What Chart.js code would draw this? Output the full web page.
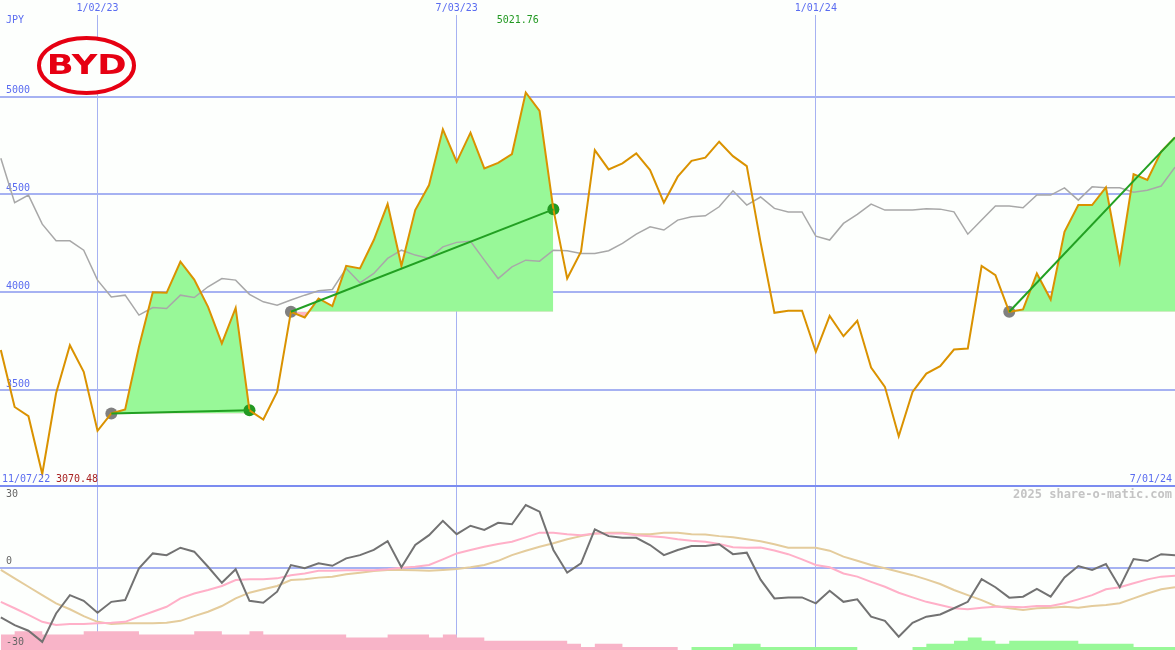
<!DOCTYPE html>
<html>
<head>
<meta charset="utf-8">
<title>BYD</title>
<script src="https://cdn.jsdelivr.net/npm/chart.js@4.4.1/dist/chart.umd.min.js"></script>
<style>
  html, body { margin: 0; padding: 0; background: #fdfffd; }
  #wrap { position: relative; width: 1175px; height: 650px; overflow: hidden; }
  #priceChart { position: absolute; left: 0; top: 0; }
  #oscChart { position: absolute; left: 0; top: 485px; }
</style>
</head>
<body>
<div id="wrap">
  <canvas id="priceChart" width="1175" height="485"></canvas>
  <canvas id="oscChart" width="1175" height="165"></canvas>
</div>
<script>
// --- dados (semanal, índice 0 = primeira semana visível) ---
const tickIdx = [7, 33, 59];
const tickDates = ['1/02/23', '7/03/23', '1/01/24'];
const priceTicks = [3500, 4000, 4500, 5000];
const oscTicks = [30, 0, -30];
const firstDate = '11/07/22';
const lastDate = '7/01/24';
const currency = 'JPY';
const watermark = '2025 share-o-matic.com';

// preço de fecho (JPY)
const price = [
  3704, 3413, 3366, 3070.48, 3483, 3729, 3593, 3291, 3380, 3400,
  3721, 4000, 3997, 4156, 4065, 3925, 3738, 3920, 3396, 3349,
  3490, 3900, 3871, 3968, 3929, 4135, 4122, 4267, 4451, 4135,
  4420, 4548, 4833, 4667, 4816, 4633, 4662, 4707, 5021.76, 4927,
  4424, 4070, 4207, 4727, 4628, 4659, 4710, 4625, 4458, 4591,
  4672, 4688, 4770, 4696, 4645, 4255, 3895, 3905, 3905, 3695,
  3879, 3775, 3854, 3615, 3516, 3263, 3490, 3584, 3622, 3707,
  3712, 4134, 4087, 3900, 3912, 4096, 3963, 4309, 4446, 4446,
  4536, 4156, 4604, 4574, 4719, 4792
];

// média móvel (linha cinza)
const avg = [
  4685, 4458, 4497, 4348, 4263, 4263, 4215, 4062, 3976, 3985,
  3883, 3922, 3917, 3985, 3973, 4028, 4070, 4062, 3989, 3951,
  3934, 3960, 3985, 4007, 4014, 4122, 4048, 4096, 4173, 4215,
  4190, 4173, 4232, 4255, 4261, 4164, 4070, 4130, 4164, 4159,
  4215, 4212, 4198, 4198, 4212, 4250, 4297, 4335, 4318, 4369,
  4386, 4391, 4437, 4519, 4446, 4487, 4429, 4411, 4411, 4287,
  4267, 4352, 4398, 4451, 4420, 4420, 4420, 4427, 4425, 4411,
  4297, 4369, 4441, 4441, 4432, 4497, 4497, 4534, 4471, 4539,
  4534, 4534, 4511, 4522, 4543, 4639
];

// oscilador (painel inferior)
const osc = [
  -20.1, -23.2, -25.5, -30.0, -18.5, -11.1, -13.4, -18.2, -13.8, -13.1,
  -0.2, 5.8, 5.1, 8.1, 6.5, 0.4, -6.1, -0.6, -13.4, -14.2,
  -9.7, 1.1, -0.2, 1.8, 0.8, 3.8, 5.1, 7.2, 10.8, 0.2,
  9.2, 13.2, 19.0, 13.6, 17.0, 15.3, 18.2, 17.6, 25.4, 22.7,
  7.2, -2.0, 1.8, 15.5, 12.8, 12.1, 12.1, 9.2, 5.1, 7.2,
  8.8, 8.8, 9.5, 5.5, 6.1, -4.8, -12.4, -12.0, -12.0, -14.4,
  -9.3, -13.8, -12.8, -19.8, -21.5, -27.9, -22.3, -19.8, -18.9, -16.4,
  -13.8, -4.6, -7.9, -12.1, -11.7, -8.6, -11.7, -3.9, 0.7, -0.9,
  1.5, -7.9, 3.5, 2.7, 5.5, 5.1
];

// sinal rápido (rosa)
const sigFast = [
  -13.8, -16.4, -19.1, -21.9, -23.2, -22.8, -22.8, -22.5, -22.3, -21.9,
  -19.8, -17.8, -15.8, -12.4, -10.4, -9.0, -7.4, -5.0, -4.7, -4.7,
  -4.3, -3.0, -2.3, -1.2, -1.2, -1.0, -1.0, -1.0, -0.6, 0.0,
  0.4, 1.1, 3.4, 5.8, 7.2, 8.5, 9.6, 10.5, 12.3, 14.2,
  14.2, 13.6, 13.2, 13.9, 13.9, 13.9, 13.2, 12.8, 12.3, 11.5,
  10.9, 10.5, 9.6, 8.3, 8.1, 8.2, 7.0, 5.5, 3.4, 1.1,
  0.2, -2.3, -3.6, -5.7, -7.7, -10.1, -12.0, -13.8, -15.1, -16.4,
  -16.8, -16.2, -15.8, -15.8, -16.0, -15.5, -15.5, -14.4, -12.8, -11.1,
  -8.7, -7.9, -6.3, -4.7, -3.6, -3.2
];

// sinal lento (bege)
const sigSlow = [
  -0.9, -4.3, -7.7, -11.1, -14.4, -16.8, -19.6, -21.9, -22.8, -22.5,
  -22.5, -22.5, -22.3, -21.5, -19.6, -17.8, -15.5, -12.4, -10.1, -8.7,
  -7.4, -5.0, -4.7, -4.0, -3.6, -2.6, -2.0, -1.3, -0.9, -0.9,
  -1.0, -1.2, -0.9, -0.5, 0.2, 1.1, 2.8, 5.1, 6.9, 8.5,
  9.9, 11.5, 12.8, 13.9, 14.2, 14.2, 13.6, 13.6, 14.2, 14.2,
  13.6, 13.5, 12.8, 12.3, 11.5, 10.7, 9.5, 8.1, 8.1, 8.1,
  6.9, 4.5, 2.8, 1.1, -0.2, -1.6, -3.0, -4.7, -6.6, -9.0,
  -11.1, -13.1, -15.5, -16.4, -17.1, -16.4, -16.2, -15.8, -16.2, -15.5,
  -15.1, -14.4, -12.4, -10.4, -8.7, -7.9
];

// histograma (negativo = rosa, positivo = verde)
const hist = [
  -5, -6, -6, -5, -5, -5, -6, -6, -6, -6,
  -5, -5, -5, -5, -6, -6, -5, -5, -6, -5,
  -5, -5, -5, -5, -5, -4, -4, -4, -5, -5,
  -5, -4, -5, -4, -4, -3, -3, -3, -3, -3,
  -3, -2, -1, -2, -2, -1, -1, -1, -1, 0,
  1, 1, 1, 2, 2, 1, 1, 1, 1, 1,
  1, 1, 0, 0, 0, 0, 1, 2, 2, 3,
  4, 3, 2, 3, 3, 3, 3, 3, 2, 2,
  2, 2, 1, 1, 1, 1
];

// operações (índices de entrada / saída)
const tradeIn = [8, 21, 73];
const tradeOut = [18, 40, 85];
const tradeClosed = [true, true, false];

// --- estilos ---
const FONT = '"DejaVu Sans Mono", monospace';
const BLUE = '#5a6cf0';
const GRID = '#a6b2f2';
const X_MIN = -0.06, X_MAX = 85.0;

const pts = (arr) => arr.map((v, i) => ({ x: i, y: v }));
const dateTicks = (s) => { s.ticks = tickIdx.map(v => ({ value: v })); };

function xAxis(extra) {
  return Object.assign({
    type: 'linear', min: X_MIN, max: X_MAX,
    afterBuildTicks: dateTicks,
    grid: { color: GRID, lineWidth: 1, drawTicks: false },
    border: { display: false }
  }, extra);
}

// --- gráfico de preço ---
const priceOverlay = {
  id: 'priceOverlay',
  afterDraw(chart) {
    const ctx = chart.ctx, xs = chart.scales.x, area = chart.chartArea;
    ctx.save();
    ctx.font = '10px ' + FONT;
    ctx.textBaseline = 'middle';

    ctx.fillStyle = BLUE;
    ctx.textAlign = 'left';
    ctx.fillText(currency, 6, 20);

    const maxV = Math.max(...price), maxI = price.indexOf(maxV);
    ctx.fillStyle = '#229922';
    ctx.textAlign = 'center';
    ctx.fillText(maxV.toFixed(2), xs.getPixelForValue(maxI) - 8, 20);

    const yb = area.bottom - 6;
    ctx.textAlign = 'left';
    ctx.fillStyle = BLUE;
    ctx.fillText(firstDate, 2, yb);
    ctx.fillStyle = '#a82222';
    ctx.fillText(Math.min(...price).toFixed(2), 56, yb);
    ctx.textAlign = 'right';
    ctx.fillStyle = BLUE;
    ctx.fillText(lastDate, 1172, yb);

    // logo BYD
    ctx.beginPath();
    ctx.ellipse(86.5, 65.5, 47.5, 27.5, 0, 0, Math.PI * 2);
    ctx.fillStyle = '#fdfffd';
    ctx.fill();
    ctx.lineWidth = 4;
    ctx.strokeStyle = '#e60012';
    ctx.stroke();
    ctx.font = 'bold 27px "DejaVu Sans", sans-serif';
    const w = ctx.measureText('BYD').width;
    ctx.translate(86.7, 73.5);
    ctx.scale(80 / w, 1);
    ctx.textAlign = 'center';
    ctx.textBaseline = 'alphabetic';
    ctx.fillStyle = '#e60012';
    ctx.fillText('BYD', 0, 0);
    ctx.restore();
  }
};

const priceDatasets = [];

tradeIn.forEach((a, k) => {
  const b = tradeOut[k];
  const seg = [];
  for (let i = a; i <= b; i++) seg.push({ x: i, y: price[i] });
  priceDatasets.push({
    data: seg, borderWidth: 0, pointRadius: 0, order: 6,
    fill: { target: { value: price[a] }, above: '#98f898', below: '#ffb6c1' }
  });
  priceDatasets.push({
    data: [{ x: a, y: price[a] }, { x: b, y: price[b] }],
    showLine: false, order: 4,
    pointRadius: [6, tradeClosed[k] ? 6 : 0],
    pointBackgroundColor: ['#808080', '#229922'],
    pointBorderWidth: 0
  });
  priceDatasets.push({
    data: [{ x: a, y: price[a] }, { x: b, y: price[b] }],
    borderColor: '#22a022', borderWidth: 2, pointRadius: 0, order: 1
  });
});

priceDatasets.push({
  data: pts(avg), borderColor: '#a8a8a8', borderWidth: 1.5, pointRadius: 0, order: 3
});
priceDatasets.push({
  data: pts(price), borderColor: '#da9200', borderWidth: 2, pointRadius: 0, order: 2
});

new Chart(document.getElementById('priceChart'), {
  type: 'line',
  data: { datasets: priceDatasets },
  options: {
    responsive: false, animation: false, devicePixelRatio: 1,
    layout: { padding: 0, autoPadding: false },
    elements: { line: { tension: 0 } },
    plugins: { legend: { display: false }, tooltip: { enabled: false } },
    scales: {
      x: xAxis({
        position: 'top',
        afterFit: (s) => { s.height = 15; s.paddingLeft = 0; s.paddingRight = 0; },
        ticks: {
          color: BLUE, font: { family: FONT, size: 10 }, padding: 1, maxRotation: 0,
          callback: (v) => tickDates[tickIdx.indexOf(v)] ?? ''
        }
      }),
      y: {
        type: 'linear', min: 3014, max: 5418,
        afterFit: (s) => { s.width = 0; s.paddingTop = 0; s.paddingBottom = 0; },
        afterBuildTicks: (s) => { s.ticks = priceTicks.map(v => ({ value: v })); },
        grid: { color: GRID, lineWidth: 2, drawTicks: false },
        border: { display: false },
        ticks: {
          mirror: true, padding: 6, labelOffset: -6,
          color: BLUE, font: { family: FONT, size: 10 },
          callback: (v) => String(v)
        }
      }
    }
  },
  plugins: [priceOverlay]
});

// --- painel do oscilador ---
const oscOverlay = {
  id: 'oscOverlay',
  afterDraw(chart) {
    const ctx = chart.ctx, ys = chart.scales.y, area = chart.chartArea;
    ctx.save();
    ctx.strokeStyle = '#7b8cf0';
    ctx.lineWidth = 2;
    ctx.beginPath();
    ctx.moveTo(area.left, area.top + 1);
    ctx.lineTo(area.right, area.top + 1);
    ctx.stroke();

    ctx.font = '10px ' + FONT;
    ctx.fillStyle = '#666666';
    ctx.textBaseline = 'middle';
    ctx.textAlign = 'left';
    oscTicks.forEach(v => ctx.fillText(String(v), 6, ys.getPixelForValue(v) + (v === 0 ? -6 : 1)));

    ctx.font = 'bold 12px ' + FONT;
    ctx.fillStyle = '#c4c4c4';
    ctx.textAlign = 'right';
    ctx.fillText(watermark, 1172, area.top + 10);
    ctx.restore();
  }
};

// colunas do histograma: degraus contínuos (cada semana vai de i a i+1)
const histBars = (keep, color) => ({
  data: hist.map((v, i) => ({ x: i, y: keep(v) ? Math.abs(v) : 0 })),
  yAxisID: 'yh', order: 10,
  stepped: 'before', borderWidth: 0, pointRadius: 0,
  fill: 'start', backgroundColor: color
});

new Chart(document.getElementById('oscChart'), {
  type: 'line',
  data: {
    datasets: [
      histBars(v => v < 0, '#f8b4c8'),
      histBars(v => v > 0, '#98f898'),
      { data: pts(sigSlow), borderColor: '#e4cc9c', borderWidth: 2, pointRadius: 0, order: 4 },
      { data: pts(sigFast), borderColor: '#ffb0c8', borderWidth: 2, pointRadius: 0, order: 3 },
      { data: pts(osc), borderColor: '#727272', borderWidth: 2, pointRadius: 0, order: 2 }
    ]
  },
  options: {
    responsive: false, animation: false, devicePixelRatio: 1,
    layout: { padding: 0, autoPadding: false },
    elements: { line: { tension: 0 } },
    plugins: { legend: { display: false }, tooltip: { enabled: false } },
    scales: {
      x: xAxis({
        position: 'bottom',
        afterFit: (s) => { s.height = 0; },
        ticks: { display: false }
      }),
      y: {
        type: 'linear', min: -33.3, max: 33.5,
        afterFit: (s) => { s.width = 0; },
        afterBuildTicks: (s) => { s.ticks = [{ value: 0 }]; },
        grid: { color: GRID, lineWidth: 2, drawTicks: false },
        border: { display: false },
        ticks: { display: false }
      },
      yh: { type: 'linear', display: false, min: 0, max: 53 }
    }
  },
  plugins: [oscOverlay]
});
</script>
</body>
</html>
